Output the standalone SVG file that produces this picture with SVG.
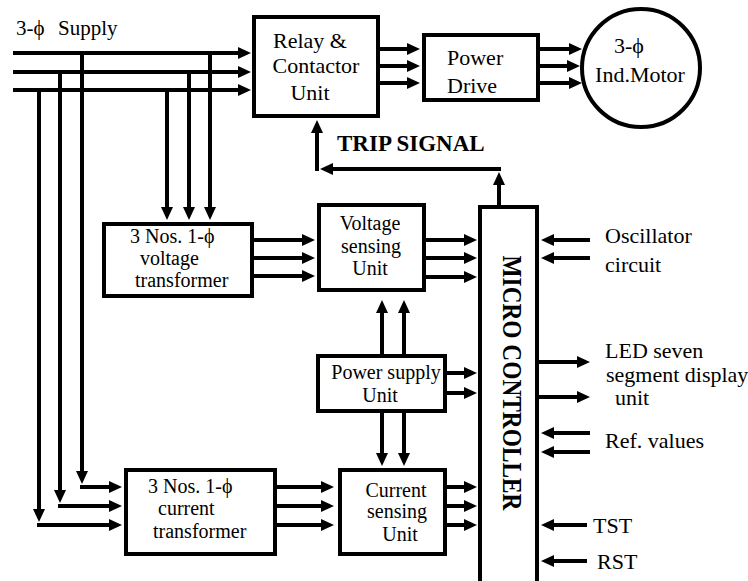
<svg xmlns="http://www.w3.org/2000/svg" width="748" height="581" viewBox="0 0 748 581">
<defs>
<marker id="ah" markerUnits="userSpaceOnUse" markerWidth="14" markerHeight="12" refX="3" refY="6" orient="auto">
<path d="M0,0 L13,6 L0,12 z" fill="#000"/>
</marker>
<style>
.box{fill:#fff;stroke:#000;stroke-width:4}
.ln{fill:none;stroke:#000;stroke-width:4}
.ar{fill:none;stroke:#000;stroke-width:4;marker-end:url(#ah)}
text{font-family:"Liberation Serif","Times New Roman","DejaVu Serif",serif;fill:#000}
.t20{font-size:20px}
.t21{font-size:21px}
.t22{font-size:22px}
.c{text-anchor:middle}
.b{font-weight:bold}
</style>
</defs>
<rect width="748" height="581" fill="#fff"/>

<g id="connectors">
<line class="ar" x1="13" y1="53" x2="241" y2="53"/>
<line class="ar" x1="13" y1="72" x2="241" y2="72"/>
<line class="ar" x1="13" y1="90" x2="241" y2="90"/>
<line class="ar" x1="39" y1="90" x2="39" y2="512"/>
<line class="ar" x1="37" y1="525" x2="112" y2="525"/>
<line class="ar" x1="60" y1="72" x2="60" y2="493"/>
<line class="ar" x1="58" y1="506" x2="112" y2="506"/>
<line class="ar" x1="82" y1="53" x2="82" y2="474"/>
<line class="ar" x1="80" y1="487" x2="112" y2="487"/>
<line class="ar" x1="167" y1="90" x2="167" y2="210"/>
<line class="ar" x1="189" y1="72" x2="189" y2="210"/>
<line class="ar" x1="210" y1="53" x2="210" y2="210"/>
<line class="ar" x1="254" y1="240" x2="305" y2="240"/>
<line class="ar" x1="254" y1="258" x2="305" y2="258"/>
<line class="ar" x1="254" y1="276" x2="305" y2="276"/>
<line class="ar" x1="426" y1="240" x2="467" y2="240"/>
<line class="ar" x1="426" y1="258" x2="467" y2="258"/>
<line class="ar" x1="426" y1="277" x2="467" y2="277"/>
<line class="ar" x1="382" y1="354" x2="382" y2="310"/>
<line class="ar" x1="404" y1="354" x2="404" y2="310"/>
<line class="ar" x1="382" y1="413" x2="382" y2="456"/>
<line class="ar" x1="404" y1="413" x2="404" y2="456"/>
<line class="ar" x1="447" y1="373" x2="467" y2="373"/>
<line class="ar" x1="447" y1="393" x2="467" y2="393"/>
<line class="ar" x1="277" y1="487" x2="324" y2="487"/>
<line class="ar" x1="277" y1="506" x2="324" y2="506"/>
<line class="ar" x1="277" y1="525" x2="324" y2="525"/>
<line class="ar" x1="447" y1="487" x2="467" y2="487"/>
<line class="ar" x1="447" y1="506" x2="467" y2="506"/>
<line class="ar" x1="447" y1="525" x2="467" y2="525"/>
<line class="ar" x1="380" y1="49" x2="410" y2="49"/>
<line class="ar" x1="380" y1="66" x2="410" y2="66"/>
<line class="ar" x1="380" y1="83" x2="410" y2="83"/>
<line class="ar" x1="540" y1="49" x2="572" y2="49"/>
<line class="ar" x1="540" y1="66" x2="570" y2="66"/>
<line class="ar" x1="540" y1="83" x2="572" y2="83"/>
<line class="ar" x1="499" y1="205" x2="499" y2="182"/>
<line class="ar" x1="501" y1="169" x2="330" y2="169"/>
<line class="ar" x1="317" y1="171" x2="317" y2="130"/>
<line class="ar" x1="590" y1="240" x2="551" y2="240"/>
<line class="ar" x1="590" y1="258" x2="551" y2="258"/>
<line class="ar" x1="539" y1="362" x2="580" y2="362"/>
<line class="ar" x1="539" y1="397" x2="580" y2="397"/>
<line class="ar" x1="590" y1="433" x2="551" y2="433"/>
<line class="ar" x1="590" y1="452" x2="551" y2="452"/>
<line class="ar" x1="587" y1="525" x2="551" y2="525"/>
<line class="ar" x1="587" y1="561" x2="551" y2="561"/>
</g>

<g id="supply-label">
<text class="t21" x="16" y="35">3-ϕ<tspan x="58">Supply</tspan></text>
</g>

<g id="relay">
<rect class="box" x="254" y="17" width="124" height="99"/>
<text class="t22 c" x="310" y="48">Relay &amp;</text>
<text class="t22 c" x="316" y="73">Contactor</text>
<text class="t22 c" x="310" y="100">Unit</text>
</g>

<g id="power-drive">
<rect class="box" x="424" y="35" width="114" height="65"/>
<text class="t22" x="447" y="65">Power</text>
<text class="t22" x="447" y="93">Drive</text>
</g>

<g id="motor">
<circle class="box" cx="641" cy="68" r="59"/>
<text class="t22 c" x="629" y="53">3-ϕ</text>
<text class="t22 c" x="640" y="82">Ind.Motor</text>
</g>

<g id="trip-label">
<text class="b" style="font-size:23px" x="337" y="151">TRIP SIGNAL</text>
</g>

<g id="voltage-transformer">
<rect class="box" x="104" y="224" width="148" height="72"/>
<text class="t20" x="130" y="243">3 Nos. 1-ϕ</text>
<text class="t20" x="140" y="265">voltage</text>
<text class="t20" x="135" y="287">transformer</text>
</g>

<g id="voltage-sensing">
<rect class="box" x="319" y="205" width="105" height="85"/>
<text class="t20 c" x="370" y="230">Voltage</text>
<text class="t20 c" x="371" y="253">sensing</text>
<text class="t20 c" x="370" y="275">Unit</text>
</g>

<g id="power-supply">
<rect class="box" x="318" y="356" width="127" height="55"/>
<text class="t20 c" x="386" y="379">Power supply</text>
<text class="t20 c" x="380" y="402">Unit</text>
</g>

<g id="current-transformer">
<rect class="box" x="126" y="470" width="149" height="84"/>
<text class="t20" x="148" y="493">3 Nos. 1-ϕ</text>
<text class="t20" x="158" y="515">current</text>
<text class="t20" x="153" y="538">transformer</text>
</g>

<g id="current-sensing">
<rect class="box" x="340" y="470" width="105" height="84"/>
<text class="t20 c" x="396" y="497">Current</text>
<text class="t20 c" x="397" y="518">sensing</text>
<text class="t20 c" x="400" y="541">Unit</text>
</g>

<g id="micro-controller">
<rect class="box" x="480" y="207" width="57" height="390"/>
<text class="b c" style="font-size:28px" transform="translate(503,383) rotate(90)" textLength="255" lengthAdjust="spacingAndGlyphs">MICRO CONTROLLER</text>
</g>

<g id="right-labels">
<text class="t22" x="605" y="243">Oscillator</text>
<text class="t22" x="605" y="272">circuit</text>
<text class="t22" x="605" y="358">LED seven</text>
<text class="t22" x="606" y="382">segment display</text>
<text class="t22" x="615" y="405">unit</text>
<text class="t22" x="605" y="448">Ref. values</text>
<text class="t22" x="593" y="533">TST</text>
<text class="t22" x="597" y="569">RST</text>
</g>
</svg>
